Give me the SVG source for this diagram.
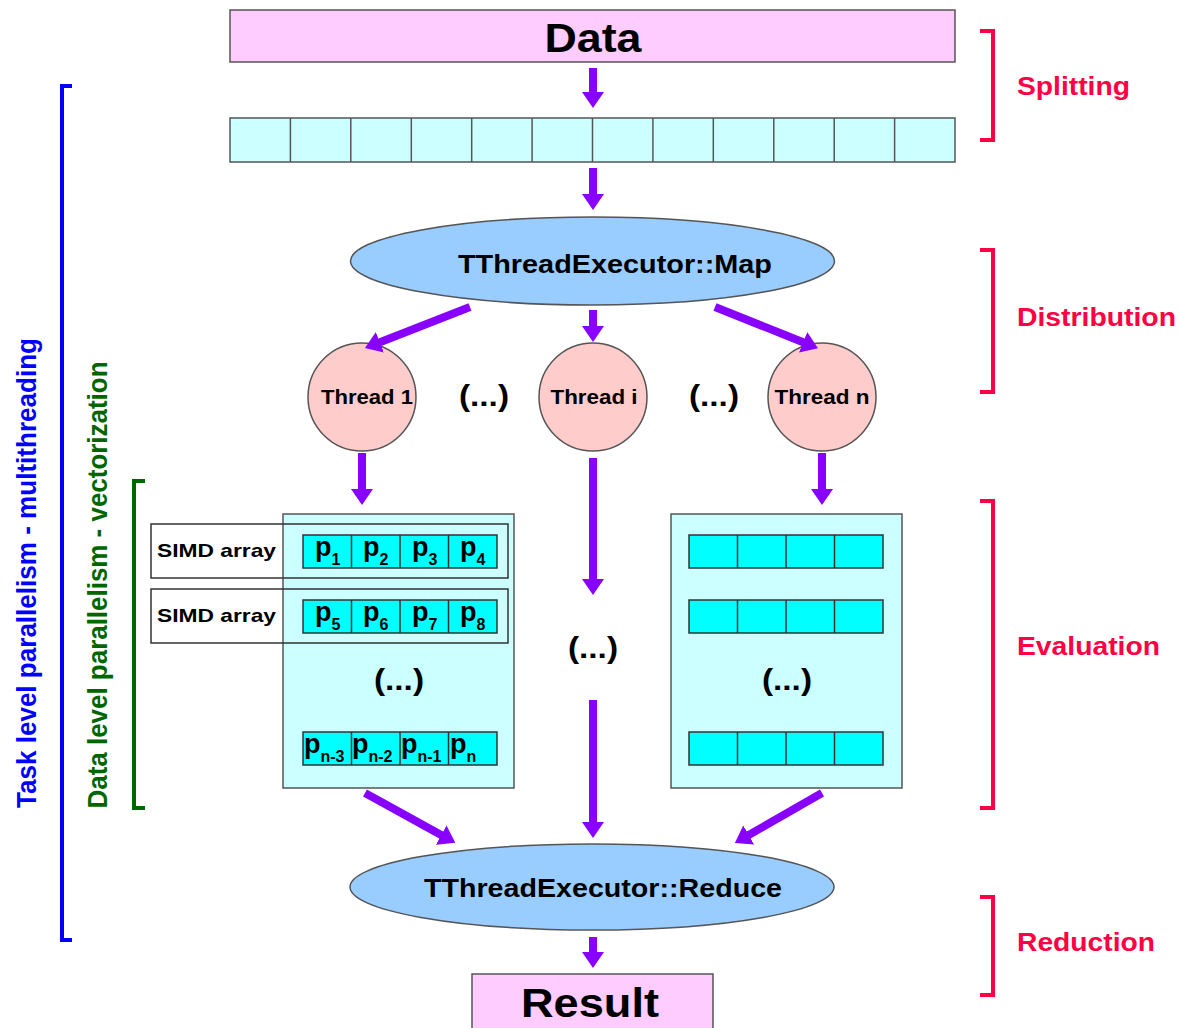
<svg xmlns="http://www.w3.org/2000/svg" width="1180" height="1028" viewBox="0 0 1180 1028">
  <style>
    text { font-family: "Liberation Sans", Arial, sans-serif; font-weight: bold; }
    .box { stroke: #555; stroke-width: 1.5; }
    .pink { fill: #ffccff; }
    .light { fill: #ccffff; }
    .cyan { fill: #00ffff; stroke: #333; stroke-width: 1.5; }
    .ell { fill: #99ccff; stroke: #555; stroke-width: 1.5; }
    .thr { fill: #ffcccc; stroke: #555; stroke-width: 1.5; }
    .frame { fill: none; stroke: #333; stroke-width: 1.5; }
    .arrow { stroke: #8800ff; stroke-width: 8; fill: none; marker-end: url(#ah); }
    .phase { fill: none; stroke: #ff0044; stroke-width: 4; }
    .phase-t { fill: #ff0044; font-size: 25px; }
    .dots { font-size: 29px; text-anchor: middle; }
    .thr-t { font-size: 20px; text-anchor: middle; }
    .p { font-size: 27px; }
    .sub { font-size: 16px; }
    .simd { font-size: 19px; }
  </style>
  <defs>
    <marker id="ah" viewBox="0 0 16 22" refX="2" refY="11" markerWidth="16" markerHeight="22" markerUnits="userSpaceOnUse" orient="auto">
      <path d="M0,0 L16,11 L0,22 z" fill="#8800ff"/>
    </marker>
    <g id="row4">
      <rect class="cyan" x="0" y="0" width="194" height="33"/>
      <line x1="48.5" y1="0" x2="48.5" y2="33" stroke="#333" stroke-width="1.5"/>
      <line x1="97" y1="0" x2="97" y2="33" stroke="#333" stroke-width="1.5"/>
      <line x1="145.5" y1="0" x2="145.5" y2="33" stroke="#333" stroke-width="1.5"/>
    </g>
  </defs>

  <!-- input data -->
  <g id="data">
    <rect class="box pink" x="230" y="10" width="725" height="52"/>
    <text x="593" y="52" font-size="40" text-anchor="middle" textLength="97" lengthAdjust="spacingAndGlyphs">Data</text>
  </g>

  <!-- split chunks -->
  <g id="chunks">
    <rect class="box light" x="230" y="118" width="725" height="44"/>
    <g stroke="#555" stroke-width="1.5">
      <line x1="290.4" y1="118" x2="290.4" y2="162"/>
      <line x1="350.8" y1="118" x2="350.8" y2="162"/>
      <line x1="411.3" y1="118" x2="411.3" y2="162"/>
      <line x1="471.7" y1="118" x2="471.7" y2="162"/>
      <line x1="532.1" y1="118" x2="532.1" y2="162"/>
      <line x1="592.5" y1="118" x2="592.5" y2="162"/>
      <line x1="652.9" y1="118" x2="652.9" y2="162"/>
      <line x1="713.3" y1="118" x2="713.3" y2="162"/>
      <line x1="773.8" y1="118" x2="773.8" y2="162"/>
      <line x1="834.2" y1="118" x2="834.2" y2="162"/>
      <line x1="894.6" y1="118" x2="894.6" y2="162"/>
    </g>
  </g>

  <!-- map -->
  <g id="map">
    <ellipse class="ell" cx="592.5" cy="261" rx="242" ry="44"/>
    <text x="615" y="273" font-size="26" text-anchor="middle" textLength="314" lengthAdjust="spacingAndGlyphs">TThreadExecutor::Map</text>
  </g>

  <!-- threads -->
  <g id="thread1">
    <circle class="thr" cx="362" cy="397" r="54"/>
    <text class="thr-t" x="367" y="404" textLength="92" lengthAdjust="spacingAndGlyphs">Thread 1</text>
  </g>
  <g id="threadi">
    <circle class="thr" cx="593" cy="397" r="54"/>
    <text class="thr-t" x="594" y="404" textLength="87" lengthAdjust="spacingAndGlyphs">Thread i</text>
  </g>
  <g id="threadn">
    <circle class="thr" cx="822" cy="397" r="54"/>
    <text class="thr-t" x="822" y="404" textLength="95" lengthAdjust="spacingAndGlyphs">Thread n</text>
  </g>
  <g id="thread-dots">
    <text class="dots" x="484" y="406" textLength="50" lengthAdjust="spacingAndGlyphs">(...)</text>
    <text class="dots" x="714" y="406" textLength="50" lengthAdjust="spacingAndGlyphs">(...)</text>
  </g>

  <!-- vectorised evaluation, thread 1 -->
  <g id="eval1">
    <rect class="box light" x="283" y="514" width="231" height="274"/>
    <rect class="frame" x="151" y="524" width="357" height="54"/>
    <rect class="frame" x="151" y="589" width="357" height="54"/>
    <text class="simd" x="157" y="557" textLength="119" lengthAdjust="spacingAndGlyphs">SIMD array</text>
    <text class="simd" x="157" y="622" textLength="119" lengthAdjust="spacingAndGlyphs">SIMD array</text>
    <use href="#row4" x="303" y="535"/>
    <use href="#row4" x="303" y="600"/>
    <use href="#row4" x="303" y="732"/>
    <text class="p" x="315" y="556">p<tspan class="sub" dy="9">1</tspan></text>
    <text class="p" x="363" y="556">p<tspan class="sub" dy="9">2</tspan></text>
    <text class="p" x="412" y="556">p<tspan class="sub" dy="9">3</tspan></text>
    <text class="p" x="460" y="556">p<tspan class="sub" dy="9">4</tspan></text>
    <text class="p" x="315" y="621">p<tspan class="sub" dy="9">5</tspan></text>
    <text class="p" x="363" y="621">p<tspan class="sub" dy="9">6</tspan></text>
    <text class="p" x="412" y="621">p<tspan class="sub" dy="9">7</tspan></text>
    <text class="p" x="460" y="621">p<tspan class="sub" dy="9">8</tspan></text>
    <text class="p" x="304" y="753">p<tspan class="sub" dy="9">n-3</tspan></text>
    <text class="p" x="352" y="753">p<tspan class="sub" dy="9">n-2</tspan></text>
    <text class="p" x="401" y="753">p<tspan class="sub" dy="9">n-1</tspan></text>
    <text class="p" x="450" y="753">p<tspan class="sub" dy="9">n</tspan></text>
    <text class="dots" x="399" y="690" textLength="50" lengthAdjust="spacingAndGlyphs">(...)</text>
  </g>

  <!-- middle thread placeholder -->
  <g id="eval-i">
    <text class="dots" x="593" y="658" textLength="50" lengthAdjust="spacingAndGlyphs">(...)</text>
  </g>

  <!-- vectorised evaluation, thread n -->
  <g id="evaln">
    <rect class="box light" x="671" y="514" width="231" height="274"/>
    <use href="#row4" x="689" y="535"/>
    <use href="#row4" x="689" y="600"/>
    <use href="#row4" x="689" y="732"/>
    <text class="dots" x="787" y="690" textLength="50" lengthAdjust="spacingAndGlyphs">(...)</text>
  </g>

  <!-- reduce -->
  <g id="reduce">
    <ellipse class="ell" cx="592" cy="887" rx="242" ry="43"/>
    <text x="603" y="897" font-size="26" text-anchor="middle" textLength="358" lengthAdjust="spacingAndGlyphs">TThreadExecutor::Reduce</text>
  </g>

  <!-- result -->
  <g id="result">
    <rect class="box pink" x="472" y="974" width="241" height="60"/>
    <text x="590" y="1017" font-size="40" text-anchor="middle" textLength="138" lengthAdjust="spacingAndGlyphs">Result</text>
  </g>

  <!-- connectors -->
  <g id="connectors">
    <line class="arrow" x1="593" y1="68" x2="593" y2="94"/>
    <line class="arrow" x1="593" y1="168" x2="593" y2="196"/>
    <line class="arrow" x1="470" y1="307" x2="378" y2="343"/>
    <line class="arrow" x1="593" y1="310" x2="593" y2="328"/>
    <line class="arrow" x1="715" y1="307" x2="805" y2="343"/>
    <line class="arrow" x1="362" y1="453" x2="362" y2="491"/>
    <line class="arrow" x1="593" y1="458" x2="593" y2="581"/>
    <line class="arrow" x1="822" y1="453" x2="822" y2="491"/>
    <line class="arrow" x1="365" y1="793" x2="443" y2="836"/>
    <line class="arrow" x1="593" y1="700" x2="593" y2="824"/>
    <line class="arrow" x1="822" y1="793" x2="747" y2="836"/>
    <line class="arrow" x1="593" y1="937" x2="593" y2="954"/>
  </g>

  <!-- phase brackets -->
  <g id="phases">
    <path class="phase" d="M980,31 H993 V140 H980"/>
    <text class="phase-t" x="1017" y="95" textLength="113" lengthAdjust="spacingAndGlyphs">Splitting</text>
    <path class="phase" d="M980,250 H993 V392 H980"/>
    <text class="phase-t" x="1017" y="326" textLength="159" lengthAdjust="spacingAndGlyphs">Distribution</text>
    <path class="phase" d="M980,501 H993 V808 H980"/>
    <text class="phase-t" x="1017" y="655" textLength="143" lengthAdjust="spacingAndGlyphs">Evaluation</text>
    <path class="phase" d="M980,897 H993 V995 H980"/>
    <text class="phase-t" x="1017" y="951" textLength="138" lengthAdjust="spacingAndGlyphs">Reduction</text>
  </g>

  <!-- parallelism levels -->
  <g id="task-level">
    <path d="M72,86 H62 V940 H72" fill="none" stroke="#0000ff" stroke-width="4"/>
    <text transform="translate(36,573) rotate(-90)" font-size="27" style="fill:#0000ff" text-anchor="middle" textLength="470" lengthAdjust="spacingAndGlyphs">Task level parallelism - multithreading</text>
  </g>
  <g id="data-level">
    <path d="M145,481 H134 V808 H145" fill="none" stroke="#006600" stroke-width="4"/>
    <text transform="translate(107,585) rotate(-90)" font-size="27" style="fill:#006600" text-anchor="middle" textLength="447" lengthAdjust="spacingAndGlyphs">Data level parallelism - vectorization</text>
  </g>
</svg>
